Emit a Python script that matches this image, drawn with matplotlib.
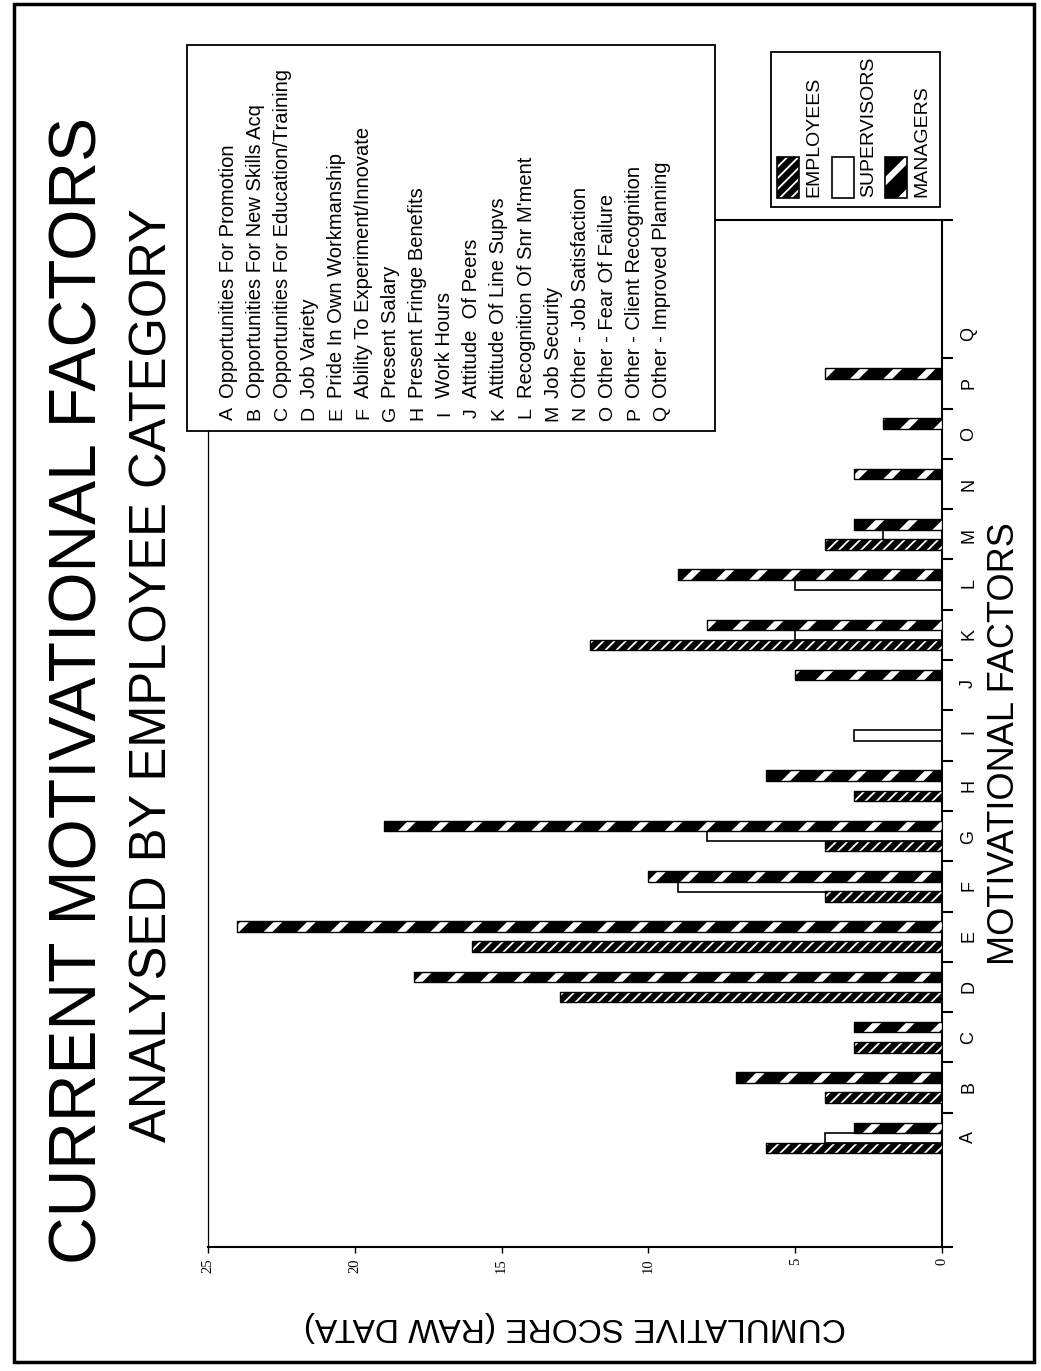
import numpy as np
import matplotlib
matplotlib.use("Agg")
import matplotlib.pyplot as plt
from matplotlib.patches import Rectangle

plt.rcParams['font.family'] = ['Liberation Sans', 'DejaVu Sans']

# motivational factors A..Q and scores per employee category
cats = list("ABCDEFGHIJKLMNOPQ")
factor_names = [
    "Opportunities For Promotion",
    "Opportunities For New Skills Acq",
    "Opportunities For Education/Training",
    "Job Variety",
    "Pride In Own Workmanship",
    "Ability To Experiment/Innovate",
    "Present Salary",
    "Present Fringe Benefits",
    "Work Hours",
    "Attitude  Of Peers",
    "Attitude Of Line Supvs",
    "Recognition Of Snr M'ment",
    "Job Security",
    "Other - Job Satisfaction",
    "Other - Fear Of Failure",
    "Other - Client Recognition",
    "Other - Improved Planning",
]
employees = [6, 4, 3, 13, 16, 4, 4, 3, 0, 0, 12, 0, 4, 0, 0, 0, 0]
supervisors = [4, 0, 0, 0, 0, 9, 8, 0, 3, 0, 5, 5, 2, 0, 0, 0, 0]
managers = [3, 7, 3, 18, 24, 10, 19, 6, 0, 5, 8, 9, 3, 3, 2, 4, 0]
score_ticks = [0, 5, 10, 15, 20, 25]

W, H = 1041, 1371
fig = plt.figure(figsize=(W / 100, H / 100), dpi=100)

# page is turned sideways: categories run up the page, scores run leftwards
ax = fig.add_axes([208 / W, 1 - 1247 / H, 734 / W, 1027 / H])

pos = np.arange(len(cats))
bh = 0.21
off = 0.2


def hatched(axis, y, vals, hatch, hlw):
    with plt.rc_context({'hatch.linewidth': hlw}):
        bars = axis.barh(y, vals, height=bh, color='black', edgecolor='white',
                         linewidth=0, hatch=hatch, zorder=3)
    for b in bars:
        if hasattr(b, 'set_hatch_linewidth'):
            b.set_hatch_linewidth(hlw)
    axis.barh(y, vals, height=bh, fill=False, edgecolor='black',
              linewidth=1.0, zorder=4)


ax.barh(pos, supervisors, height=bh, color='white', edgecolor='black',
        linewidth=1.2, zorder=2)
hatched(ax, pos - off, employees, '///', 1.3)
hatched(ax, pos + off, managers, '/', 4.5)

ax.set_xlim(25, 0)
ax.set_ylim(-2.17, 18.25)

for side in ['top', 'bottom', 'right']:
    ax.spines[side].set_linewidth(1.5)
ax.spines['left'].set_linewidth(0.9)

ax.set_xticks(score_ticks)
ax.set_xticklabels([str(t) for t in score_ticks], rotation=90,
                   family=['Liberation Serif', 'DejaVu Serif'], fontsize=10.5)
ax.tick_params(axis='x', direction='out', length=4, width=1, pad=4)

ax.yaxis.tick_right()
ax.set_yticks([-2.17] + list(np.arange(0.5, 16)) + [18.25])
ax.set_yticklabels([])
ax.set_yticks(pos, minor=True)
ax.set_yticklabels(cats, minor=True, rotation=90, fontsize=13)
ax.tick_params(axis='y', which='major', direction='out', length=8, width=1.5,
               left=False, right=True)
ax.tick_params(axis='y', which='minor', length=0, pad=13, left=False,
               right=True, labelright=True, labelleft=False)

ax.yaxis.set_label_position('right')
ax.set_ylabel('MOTIVATIONAL FACTORS', fontsize=26, rotation=90,
              va='center', ha='center')
ax.yaxis.set_label_coords(1.085, 0.49)
ax.set_xlabel('CUMULATIVE SCORE (RAW DATA)', fontsize=24, rotation=180,
              va='center', ha='center')
ax.xaxis.set_label_coords(0.5, -0.077)

fig.text(80 / W, 1 - 690 / H, 'CURRENT MOTIVATIONAL FACTORS', rotation=90,
         ha='center', va='center', fontsize=47.5)
fig.text(153 / W, 1 - 675 / H, 'ANALYSED BY EMPLOYEE CATEGORY', rotation=90,
         ha='center', va='center', fontsize=36.5)

# page overlay in pixel units: border, factor key, category key
pg = fig.add_axes([0, 0, 1, 1], zorder=5)
pg.set_xlim(0, W)
pg.set_ylim(H, 0)
pg.axis('off')
pg.patch.set_alpha(0)

pg.add_patch(Rectangle((14, 4), 1020, 1358, fill=False, linewidth=2.5,
                       edgecolor='black'))

pg.add_patch(Rectangle((187, 45), 528, 386, facecolor='white',
                       edgecolor='black', linewidth=1.3))
for i, (c, name) in enumerate(zip(cats, factor_names)):
    x = 228 + 27.1 * i
    pg.text(x, 413, c, rotation=90, rotation_mode='anchor', ha='center',
            va='center', fontsize=14)
    pg.text(x, 398, name, rotation=90, rotation_mode='anchor', ha='left',
            va='center', fontsize=14.5)

pg.add_patch(Rectangle((771, 52), 169, 155, facecolor='white',
                       edgecolor='black', linewidth=1.3))
key_x = [777, 832, 885]
key_names = ['EMPLOYEES', 'SUPERVISORS', 'MANAGERS']
key_style = [('///', 1.3), (None, 0), ('/', 4.5)]
for kx, kname, (kh, klw) in zip(key_x, key_names, key_style):
    if kh is None:
        pg.add_patch(Rectangle((kx, 157), 22, 41, facecolor='white',
                               edgecolor='black', linewidth=1.2))
    else:
        with plt.rc_context({'hatch.linewidth': klw}):
            p = Rectangle((kx, 157), 22, 41, facecolor='black',
                          edgecolor='white', linewidth=0, hatch=kh)
        if hasattr(p, 'set_hatch_linewidth'):
            p.set_hatch_linewidth(klw)
        pg.add_patch(p)
        pg.add_patch(Rectangle((kx, 157), 22, 41, fill=False,
                               edgecolor='black', linewidth=1.2))
    pg.text(kx + 37, 197, kname, rotation=90, rotation_mode='anchor',
            ha='left', va='center', fontsize=14)

fig.savefig('out.png', dpi=100)
